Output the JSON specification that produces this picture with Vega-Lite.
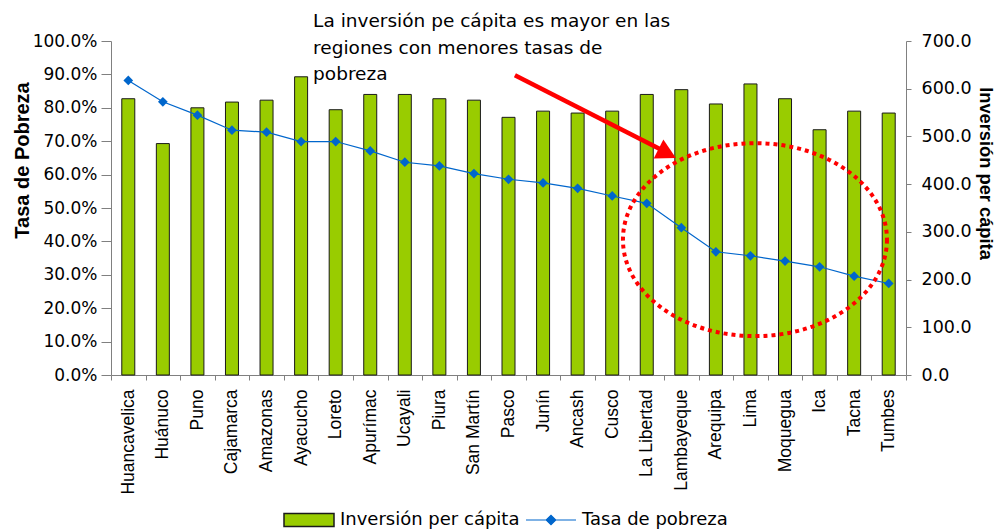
{
  "$schema": "https://vega.github.io/schema/vega-lite/v6.json",
  "autosize": "none",
  "width": 795,
  "height": 334,
  "padding": {"left": 111, "top": 41, "right": 91, "bottom": 157},
  "background": "white",
  "config": {
    "view": {"stroke": null},
    "axis": {"grid": false, "domainColor": "#808080", "tickColor": "#808080", "labelColor": "#000000", "titleColor": "#000000"}
  },
  "data": {
    "values": [
      {"region": "Huancavelica", "inversion": 579, "pobreza": 0.882},
      {"region": "Huánuco", "inversion": 485, "pobreza": 0.818},
      {"region": "Puno", "inversion": 560, "pobreza": 0.778},
      {"region": "Cajamarca", "inversion": 572, "pobreza": 0.733},
      {"region": "Amazonas", "inversion": 576, "pobreza": 0.727},
      {"region": "Ayacucho", "inversion": 625, "pobreza": 0.699},
      {"region": "Loreto", "inversion": 556, "pobreza": 0.699},
      {"region": "Apurímac", "inversion": 588, "pobreza": 0.671},
      {"region": "Ucayali", "inversion": 588, "pobreza": 0.637},
      {"region": "Piura", "inversion": 579, "pobreza": 0.626},
      {"region": "San Martín", "inversion": 576, "pobreza": 0.603},
      {"region": "Pasco", "inversion": 540, "pobreza": 0.586},
      {"region": "Junín", "inversion": 553, "pobreza": 0.575},
      {"region": "Ancash", "inversion": 549, "pobreza": 0.559},
      {"region": "Cusco", "inversion": 553, "pobreza": 0.536},
      {"region": "La Libertad", "inversion": 588, "pobreza": 0.514},
      {"region": "Lambayeque", "inversion": 598, "pobreza": 0.441},
      {"region": "Arequipa", "inversion": 568, "pobreza": 0.369},
      {"region": "Lima", "inversion": 610, "pobreza": 0.357},
      {"region": "Moquegua", "inversion": 579, "pobreza": 0.341},
      {"region": "Ica", "inversion": 514, "pobreza": 0.324},
      {"region": "Tacna", "inversion": 553, "pobreza": 0.296},
      {"region": "Tumbes", "inversion": 549, "pobreza": 0.274}
    ]
  },
  "encoding": {
    "x": {
      "field": "region",
      "type": "nominal",
      "sort": null,
      "title": null,
      "scale": {
        "domain": ["Huancavelica", "Huánuco", "Puno", "Cajamarca", "Amazonas", "Ayacucho", "Loreto", "Apurímac", "Ucayali", "Piura", "San Martín", "Pasco", "Junín", "Ancash", "Cusco", "La Libertad", "Lambayeque", "Arequipa", "Lima", "Moquegua", "Ica", "Tacna", "Tumbes"],
        "paddingInner": 0,
        "paddingOuter": 0
      },
      "axis": {
        "labelAngle": -90,
        "labelFont": "Liberation Sans",
        "labelFontSize": 17.5,
        "labelPadding": 9,
        "tickSize": 5,
        "tickBand": "extent",
        "domainColor": "#808080"
      }
    }
  },
  "layer": [
    {
      "mark": {"type": "bar", "size": 13, "stroke": "#1a1a1a", "strokeWidth": 1},
      "encoding": {
        "y": {
          "field": "inversion",
          "type": "quantitative",
          "scale": {"domain": [0, 700], "nice": false},
          "axis": {
            "orient": "right",
            "title": "Inversión per cápita",
            "values": [0, 100, 200, 300, 400, 500, 600, 700],
            "format": ".1f",
            "labelFont": "DejaVu Sans",
            "labelFontSize": 17.5,
            "labelPadding": 10,
            "tickSize": 5,
            "titleFont": "Liberation Sans",
            "titleFontWeight": "bold",
            "titleFontSize": 18.3,
            "titleX": 78,
            "titleY": 132,
            "titleAngle": 90,
            "titleAlign": "center",
            "titleBaseline": "middle"
          }
        },
        "color": {
          "datum": "Inversión per cápita",
          "type": "nominal",
          "scale": {"domain": ["Inversión per cápita"], "range": ["#99CC00"]},
          "legend": {
            "title": null,
            "orient": "none",
            "direction": "horizontal",
            "legendX": 172,
            "legendY": 453,
            "padding": 0,
            "symbolSize": 2500,
            "symbolType": "M-1,-0.26H1V0.26H-1Z",
            "labelFont": "DejaVu Sans",
            "labelFontSize": 18,
            "labelColor": "#000000",
            "labelLimit": 0,
            "labelOffset": 5,
            "encode": {
              "symbols": {
                "update": {
                  "fill": {"value": "#99CC00"},
                  "stroke": {"value": "#333333"},
                  "strokeWidth": {"value": 1},
                  "opacity": {"value": 1}
                }
              }
            }
          }
        }
      }
    },
    {
      "mark": {"type": "line", "strokeWidth": 1.2, "point": {"shape": "diamond", "size": 95, "filled": true}},
      "encoding": {
        "y": {
          "field": "pobreza",
          "type": "quantitative",
          "scale": {"domain": [0, 1], "nice": false},
          "axis": {
            "orient": "left",
            "title": "Tasa de Pobreza",
            "values": [0, 0.1, 0.2, 0.3, 0.4, 0.5, 0.6, 0.7, 0.8, 0.9, 1],
            "format": ".1%",
            "labelFont": "DejaVu Sans",
            "labelFontSize": 17,
            "labelPadding": 4,
            "tickSize": 10,
            "titleFont": "Liberation Sans",
            "titleFontWeight": "bold",
            "titleFontSize": 20,
            "titleX": -89,
            "titleY": 119,
            "titleAngle": -90,
            "titleAlign": "center",
            "titleBaseline": "middle"
          }
        },
        "color": {
          "datum": "Tasa de pobreza",
          "type": "nominal",
          "scale": {"domain": ["Tasa de pobreza"], "range": ["#0066CC"]},
          "legend": {
            "title": null,
            "orient": "none",
            "direction": "horizontal",
            "legendX": 414,
            "legendY": 453,
            "padding": 0,
            "symbolSize": 2500,
            "symbolType": "M-1,0H1M-0.19,0L0,-0.19L0.19,0L0,0.19Z",
            "labelFont": "DejaVu Sans",
            "labelFontSize": 18,
            "labelColor": "#000000",
            "labelLimit": 0,
            "labelOffset": 5,
            "encode": {
              "symbols": {
                "update": {
                  "fill": {"value": "#0066CC"},
                  "stroke": {"value": "#0066CC"},
                  "strokeWidth": {"value": 1.2},
                  "opacity": {"value": 1}
                }
              }
            }
          }
        }
      }
    },
    {
      "data": {"values": [{}]},
      "mark": {
        "type": "point",
        "shape": "M1,0C1,0.4037,0.5523,0.731,0,0.731C-0.5523,0.731,-1,0.4037,-1,0C-1,-0.4037,-0.5523,-0.731,0,-0.731C0.5523,-0.731,1,-0.4037,1,0Z",
        "size": 69696,
        "filled": false,
        "stroke": "#FF0000",
        "strokeWidth": 4,
        "strokeDash": [4, 4],
        "opacity": 1,
        "xOffset": 4.5
      },
      "encoding": {
        "x": {"datum": "Lima"},
        "y": {"datum": 0.4053, "type": "quantitative", "scale": {"domain": [0, 1], "nice": false}, "axis": null}
      }
    },
    {
      "data": {"values": [{}]},
      "mark": {"type": "rule", "stroke": "#FF0000", "strokeWidth": 4.5, "xOffset": 6.4, "x2Offset": -20},
      "encoding": {
        "x": {"datum": "Pasco"},
        "x2": {"datum": "Lambayeque"},
        "y": {"datum": 0.8976, "type": "quantitative", "scale": {"domain": [0, 1], "nice": false}, "axis": null},
        "y2": {"datum": 0.6746}
      }
    },
    {
      "data": {"values": [{}]},
      "mark": {
        "type": "point",
        "shape": "M1,0L-1,-1.09L-1,1.09Z",
        "size": 380,
        "filled": true,
        "fill": "#FF0000",
        "stroke": null,
        "opacity": 1,
        "angle": 27,
        "xOffset": -14.1
      },
      "encoding": {
        "x": {"datum": "Lambayeque"},
        "y": {"datum": 0.6632, "type": "quantitative", "scale": {"domain": [0, 1], "nice": false}, "axis": null}
      }
    },
    {
      "data": {"values": [{}]},
      "mark": {
        "type": "text",
        "text": "La inversión pe cápita es mayor en las\nregiones con menores tasas de\npobreza",
        "lineBreak": "\n",
        "lineHeight": 26.7,
        "align": "left",
        "baseline": "alphabetic",
        "font": "DejaVu Sans",
        "fontSize": 18.5,
        "color": "#000000",
        "dx": 12
      },
      "encoding": {
        "x": {"datum": "Ayacucho"},
        "y": {"datum": 1.042, "type": "quantitative", "scale": {"domain": [0, 1], "nice": false}, "axis": null}
      }
    }
  ],
  "resolve": {"scale": {"y": "independent", "color": "independent"}}
}
